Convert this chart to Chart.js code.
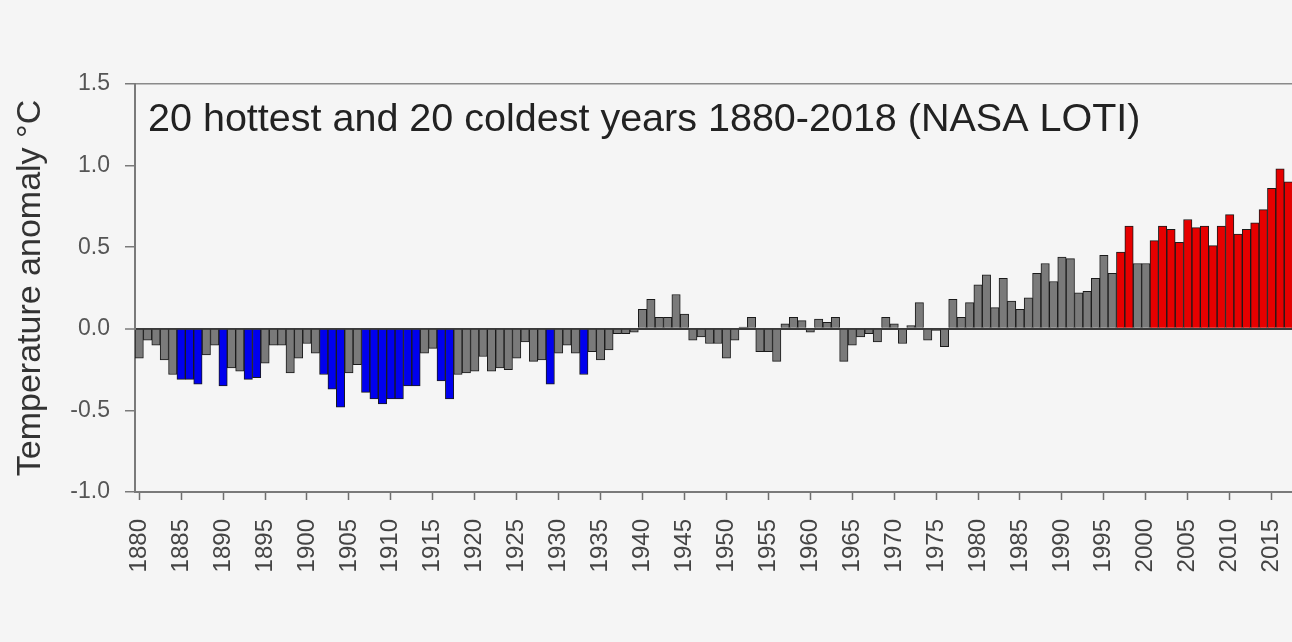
<!DOCTYPE html>
<html>
<head>
<meta charset="utf-8">
<script src="https://cdn.jsdelivr.net/npm/chart.js@4.4.1/dist/chart.umd.min.js"></script>
<style>
  html, body { margin: 0; padding: 0; background: #f5f5f5; overflow: hidden; }
  #wrap { width: 1292px; height: 642px; overflow: hidden; position: relative; }
  canvas { display: block; }
</style>
</head>
<body>
<div id="wrap"><canvas id="chart" width="1301" height="642"></canvas></div>
<script>
// Annual global land-ocean temperature anomaly (°C), 1880-2018
const firstYear = 1880;
const lastYear = 2018;
const years = [];
for (let y = firstYear; y <= lastYear; y++) years.push(y);

const anomalies1880s = [-0.18, -0.07, -0.10, -0.19, -0.28, -0.31, -0.31, -0.34, -0.16, -0.10];
const anomalies1890s = [-0.35, -0.24, -0.26, -0.31, -0.30, -0.21, -0.10, -0.10, -0.27, -0.18];
const anomalies1900s = [-0.09, -0.15, -0.28, -0.37, -0.48, -0.27, -0.22, -0.39, -0.43, -0.46];
const anomalies1910s = [-0.43, -0.43, -0.35, -0.35, -0.15, -0.12, -0.32, -0.43, -0.28, -0.27];
const anomalies1920s = [-0.26, -0.17, -0.26, -0.24, -0.25, -0.18, -0.08, -0.20, -0.19, -0.34];
const anomalies1930s = [-0.15, -0.10, -0.15, -0.28, -0.14, -0.19, -0.13, -0.03, -0.03, -0.02];
const anomalies1940s = [0.12, 0.18, 0.07, 0.07, 0.21, 0.09, -0.07, -0.05, -0.09, -0.09];
const anomalies1950s = [-0.18, -0.07, 0.01, 0.07, -0.14, -0.14, -0.20, 0.03, 0.07, 0.05];
const anomalies1960s = [-0.02, 0.06, 0.04, 0.07, -0.20, -0.10, -0.05, -0.03, -0.08, 0.07];
const anomalies1970s = [0.03, -0.09, 0.02, 0.16, -0.07, -0.01, -0.11, 0.18, 0.07, 0.16];
const anomalies1980s = [0.27, 0.33, 0.13, 0.31, 0.17, 0.12, 0.19, 0.34, 0.40, 0.29];
const anomalies1990s = [0.44, 0.43, 0.22, 0.23, 0.31, 0.45, 0.34, 0.47, 0.63, 0.40];
const anomalies2000s = [0.40, 0.54, 0.63, 0.61, 0.53, 0.67, 0.62, 0.63, 0.51, 0.63];
const anomalies2010s = [0.70, 0.58, 0.61, 0.65, 0.73, 0.86, 0.98, 0.90, 0.82];

const anomalies = [].concat(
  anomalies1880s, anomalies1890s, anomalies1900s, anomalies1910s, anomalies1920s,
  anomalies1930s, anomalies1940s, anomalies1950s, anomalies1960s, anomalies1970s,
  anomalies1980s, anomalies1990s, anomalies2000s, anomalies2010s
);

// The 20 coldest and 20 hottest years are highlighted
const coldestYears = [1885, 1886, 1887, 1890, 1893, 1894, 1902, 1903, 1904, 1907,
                      1908, 1909, 1910, 1911, 1912, 1913, 1916, 1917, 1929, 1933];
const hottestYears = [1997, 1998, 2001, 2002, 2003, 2004, 2005, 2006, 2007, 2008,
                      2009, 2010, 2011, 2012, 2013, 2014, 2015, 2016, 2017, 2018];

const yTickValues = [-1.0, -0.5, 0.0, 0.5, 1.0, 1.5];
const yMin = -1.0;
const yMax = 1.5;
const yStep = 0.5;
const labelEvery = 5;

const chartTitle = '20 hottest and 20 coldest years 1880-2018 (NASA LOTI)';
const yAxisTitle = 'Temperature anomaly °C';

const COLD = '#0000ee';
const HOT = '#e60000';
const OTHER = '#7a7a7a';
const FONT = '"Liberation Sans", Arial, Helvetica, sans-serif';

const barColours = years.map(y =>
  coldestYears.includes(y) ? COLD : hottestYears.includes(y) ? HOT : OTHER);

const backgroundFill = {
  id: 'backgroundFill',
  beforeDraw(chart) {
    const ctx = chart.ctx;
    ctx.save();
    ctx.fillStyle = '#f5f5f5';
    ctx.fillRect(0, 0, chart.width, chart.height);
    ctx.restore();
  }
};

// Heading written inside the plot frame, top-left
const innerHeading = {
  id: 'innerHeading',
  afterDraw(chart) {
    const { ctx, chartArea } = chart;
    ctx.save();
    ctx.font = '39.5px ' + FONT;
    ctx.fillStyle = '#222222';
    ctx.textAlign = 'left';
    ctx.textBaseline = 'alphabetic';
    ctx.fillText(chartTitle, chartArea.left + 13, chartArea.top + 47);
    ctx.restore();
  }
};

new Chart(document.getElementById('chart'), {
  type: 'bar',
  data: {
    labels: years.map(String),
    datasets: [{
      data: anomalies,
      backgroundColor: barColours,
      borderColor: '#1a1a1a',
      borderWidth: 1,
      categoryPercentage: 1.0,
      barPercentage: 1.0
    }]
  },
  options: {
    responsive: false,
    animation: false,
    events: [],
    layout: { padding: { left: 0, top: 84, right: 0, bottom: 0 } },
    plugins: {
      legend: { display: false },
      tooltip: { enabled: false },
      title: { display: false }
    },
    scales: {
      x: {
        type: 'category',
        offset: true,
        grid: {
          offset: false,
          drawOnChartArea: false,
          drawTicks: true,
          tickLength: 8,
          tickWidth: 1.5,
          tickColor: ctx => (years[ctx.index] % labelEvery === 0 ? '#6e6e6e' : 'rgba(0,0,0,0)')
        },
        border: { display: true, color: '#7a7a7a', width: 2 },
        ticks: {
          autoSkip: false,
          minRotation: 90,
          maxRotation: 90,
          padding: 19,
          color: '#444444',
          font: { family: FONT, size: 24 },
          callback: (value, index) => (years[index] % labelEvery === 0 ? String(years[index]) : '')
        },
        afterFit(scale) {
          scale.height = 150;
          scale.paddingLeft = 0;
          scale.paddingRight = 0;
        }
      },
      y: {
        min: yMin,
        max: yMax,
        afterBuildTicks(scale) {
          scale.ticks = yTickValues.map(v => ({ value: v }));
        },
        ticks: {
          stepSize: yStep,
          padding: 15,
          color: '#555555',
          font: { family: FONT, size: 23 },
          callback: v => Number(v).toFixed(1)
        },
        grid: {
          drawTicks: true,
          tickLength: 10,
          tickColor: '#7a7a7a',
          tickWidth: 1.5,
          color: ctx => {
            const v = ctx.tick ? ctx.tick.value : null;
            if (v === 0) return '#3a3a3a';
            if (v === yMax) return '#8a8a8a';
            return 'rgba(0,0,0,0)';
          },
          lineWidth: ctx => (ctx.tick && ctx.tick.value === 0 ? 2 : 1.5)
        },
        border: { display: true, color: '#7a7a7a', width: 2 },
        title: {
          display: true,
          text: yAxisTitle,
          color: '#333333',
          font: { family: FONT, size: 34 },
          padding: { top: 10, bottom: 0 }
        },
        afterFit(scale) {
          scale.width = 135;
          scale.paddingTop = 0;
          scale.paddingBottom = 0;
        }
      }
    }
  },
  plugins: [backgroundFill, innerHeading]
});
</script>
</body>
</html>
